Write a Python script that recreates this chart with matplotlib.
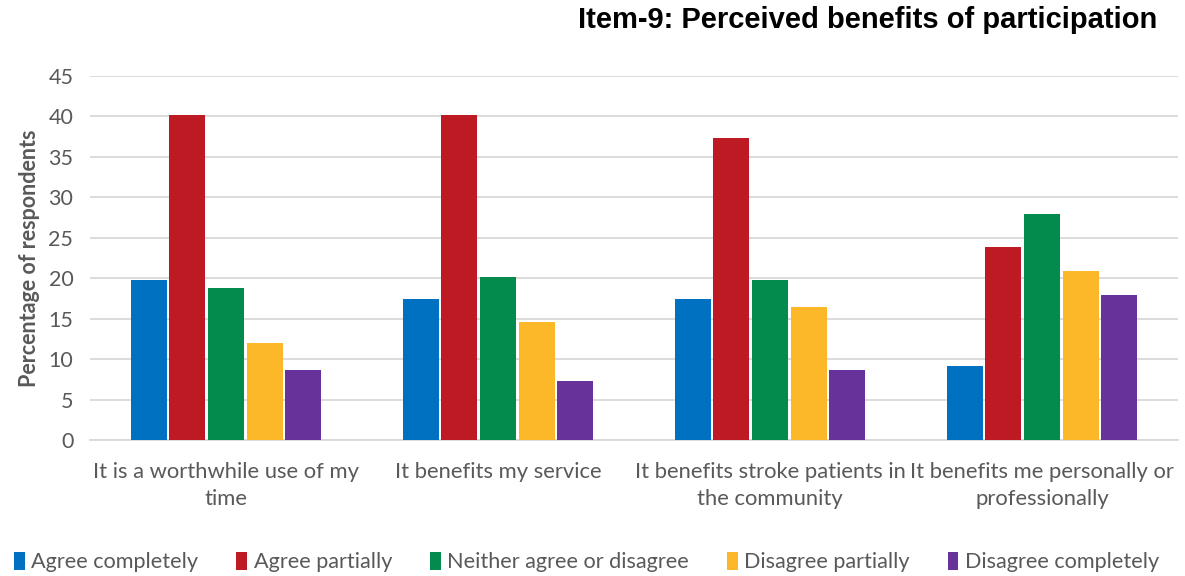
import matplotlib
matplotlib.use("Agg")
import matplotlib.pyplot as plt
import numpy as np

categories = ["It is a worthwhile use of my\ntime", "It benefits my service",
              "It benefits stroke patients in\nthe community", "It benefits me personally or\nprofessionally"]
series_names = ["Agree completely", "Agree partially", "Neither agree or disagree",
                "Disagree partially", "Disagree completely"]
agree_completely = [19.8, 17.4, 17.4, 9.1]
agree_partially = [40.2, 40.2, 37.3, 23.8]
neither = [18.8, 20.2, 19.8, 28.0]
disagree_partially = [12.0, 14.6, 16.4, 20.9]
disagree_completely = [8.7, 7.3, 8.7, 17.9]
colors = ["#0070c0", "#be1a24", "#038b4d", "#fdb82a", "#67329a"]
yticks = [0, 5, 10, 15, 20, 25, 30, 35, 40, 45]

series = [agree_completely, agree_partially, neither, disagree_partially, disagree_completely]

plt.rcParams['font.family'] = ['Lato', 'DejaVu Sans']
fig = plt.figure(figsize=(11.85, 5.76), dpi=100)
ax = fig.add_axes([90/1185, 1-440/576, 1088/1185, 364/576])

x = np.arange(len(categories))
slot = 0.142
bw = 0.132
for i, (s, c, n) in enumerate(zip(series, colors, series_names)):
    ax.bar(x + (i - 2) * slot, s, width=bw, color=c, label=n, zorder=3)

ax.set_xlim(-0.5, 3.5)
ax.set_ylim(0, 45)
ax.set_yticks(yticks)
ax.set_yticklabels([str(t) for t in yticks], fontsize=15.5, color="#595959")
ax.yaxis.grid(True, color="#d9d9d9", linewidth=1.3, zorder=0)
ax.set_xticks(x)
ax.set_xticklabels(categories, fontsize=15.8, color="#595959", linespacing=1.4)
ax.tick_params(axis='both', length=0)
ax.tick_params(axis='y', pad=12)
ax.tick_params(axis='x', pad=16)
for sp in ["top", "right", "left"]:
    ax.spines[sp].set_visible(False)
ax.spines["bottom"].set_color("#d9d9d9")
ax.spines["bottom"].set_linewidth(1.3)

ax.set_ylabel("Percentage of respondents", fontsize=15.5, fontweight="bold", color="#595959", labelpad=6)

fig.text(1157/1185, 1-20/576, "Item-9: Perceived benefits of participation",
         ha="right", va="center", fontsize=21, fontweight="bold",
         family=["Liberation Sans", "DejaVu Sans"], color="black")

leg = fig.legend(loc="center", bbox_to_anchor=(0.495, 1-562/576), ncol=5, frameon=False,
                 fontsize=15.6, handlelength=0.5, handleheight=0.9, handletextpad=0.3,
                 columnspacing=1.75)
for t in leg.get_texts():
    t.set_color("#595959")

fig.savefig("out.png", dpi=100)
